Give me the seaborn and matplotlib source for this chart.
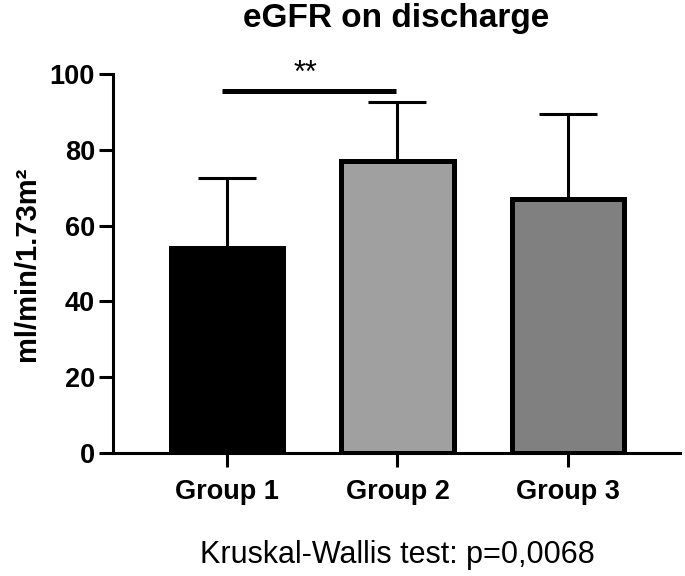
import matplotlib
matplotlib.use("Agg")
import matplotlib.pyplot as plt
import seaborn as sns
import pandas as pd

groups = ["Group 1", "Group 2", "Group 3"]
means = [54, 77, 67]
sds = [18.5, 15.5, 22.5]
bar_colors = ["#000000", "#a0a0a0", "#808080"]

sns.set_style("ticks")
plt.rcParams['font.family'] = ['Liberation Sans', 'DejaVu Sans']
for k in ["text.color", "axes.labelcolor", "xtick.color", "ytick.color", "axes.edgecolor"]:
    plt.rcParams[k] = "black"

df = pd.DataFrame({"group": groups, "egfr": means})

fig = plt.figure(figsize=(6.85, 5.76), dpi=100)
ax = fig.add_axes([0.165, 0.2135, 0.828, 0.658])

# error bars (upper only), drawn behind the bars
ax.errorbar(range(len(groups)), means, yerr=[[0] * 3, sds], fmt="none",
            ecolor="black", elinewidth=2.2, capsize=21, capthick=2.2, zorder=1)

sns.barplot(data=df, x="group", y="egfr", hue="group", palette=bar_colors,
            errorbar=None, width=0.66, edgecolor="black", linewidth=3.6,
            legend=False, ax=ax, zorder=2)

ax.set_ylim(0, 100)
ax.set_xlim(-0.67, 2.66)
ax.set_yticks([0, 20, 40, 60, 80, 100])
ax.set_xlabel("")
ax.set_ylabel("ml/min/1.73m²", fontsize=21, fontweight="bold", labelpad=6)
ax.set_title("eGFR on discharge", fontsize=24, fontweight="bold", pad=34)

for s in ["top", "right"]:
    ax.spines[s].set_visible(False)
for s in ["left", "bottom"]:
    ax.spines[s].set_linewidth(2.2)
ax.tick_params(axis="both", width=2.2, length=10, labelsize=19.5, pad=3)
for lab in ax.get_xticklabels() + ax.get_yticklabels():
    lab.set_fontweight("bold")
ax.tick_params(axis="x", pad=9)

# significance bar between group 1 and 2
ax.plot([-0.03, 0.99], [95.5, 95.5], color="black", lw=3.6, clip_on=False,
        solid_capstyle="butt")
ax.text(0.46, 96.2, "**", ha="center", va="bottom", fontsize=22, clip_on=False)

fig.text(0.58, 0.036, "Kruskal-Wallis test: p=0,0068", ha="center", va="center",
         fontsize=22)

fig.savefig("out.png", dpi=100)
